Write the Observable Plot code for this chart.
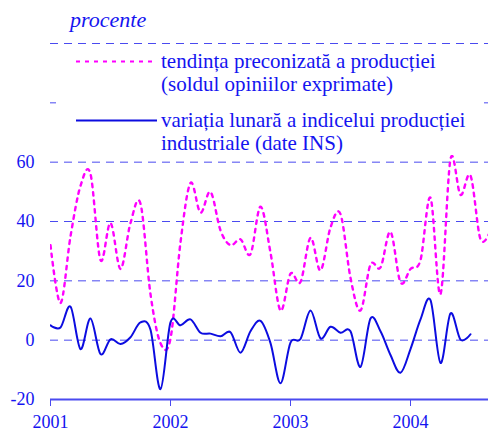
<!DOCTYPE html>
<html><head><meta charset="utf-8">
<script src="https://cdn.jsdelivr.net/npm/d3@7"></script>
<script src="https://cdn.jsdelivr.net/npm/@observablehq/plot@0.6"></script>
<style>html,body{margin:0;padding:0;background:#fff;} svg{display:block}</style>
</head><body><div id="chart"></div>
<script>
// ---- data (monthly, starting January 2001) ----
const yearLabels = ["2001", "2002", "2003", "2004"];
const trendValues = [
  32, 12.5, 35, 52, 56, 27, 39.5, 24, 39.5, 46, 15.5, -1,
  0.5, 33, 53, 43, 50, 37, 32, 34, 29, 45, 29.5, 10,
  22.4, 19.6, 34.5, 23.5, 38, 42.5, 21, 10, 25.5, 24.5, 36.5, 19.5,
  24, 27, 48, 15.5, 61, 49, 55.5, 34, 37
];
const industrialValues = [
  5, 4.3, 11.3, -3, 7.3, -4.7, 0.3, -1.3, 1, 6, 3.5, -16.5,
  6, 5, 7, 2.5, 2.2, 1.3, 2.7, -4.2, 3, 6.5, -1, -14.5,
  -0.8, 0.4, 10, 0.6, 4.5, 2.5, 3, -9, 7.3, 3, -5, -11,
  -3, 7, 13.5, -7.7, 9, 0.2, 2
];
const yTickValues = [-20, 0, 20, 40, 60];
const gridValues = [0, 20, 40, 60, 80, 100];
const unitLabel = "procente";
const legendTrend = ["tendința preconizată a producției", "(soldul opiniilor exprimate)"];
const legendIndustrial = ["variația lunară a indicelui producției", "industriale (date INS)"];

const fontStack = "'Liberation Serif', 'Times New Roman', Times, serif";
const textColor = "#1414f0";
const gridColor = "#4a4af0";
const blueLine = "#0c0ce0";
const magenta = "#ff00ff";

const trend = trendValues.map((v, i) => ({m: i, v}));
const industrial = industrialValues.map((v, i) => ({m: i, v}));
const yearTicks = yearLabels.map((_, k) => k * 12);

const chart = Plot.plot({
  width: 488,
  height: 432,
  marginLeft: 50,
  marginRight: 0,
  marginTop: 43,
  marginBottom: 33,
  style: {fontFamily: fontStack, fontSize: "18px", color: textColor, background: "#fff"},
  x: {domain: [0, 43.8], axis: null},
  y: {domain: [-20, 100], axis: null},
  marks: [
    Plot.ruleY(gridValues, {stroke: gridColor, strokeWidth: 1, strokeDasharray: "8,6"}),
    Plot.ruleY([-20], {stroke: gridColor, strokeWidth: 2}),
    Plot.axisY(yTickValues, {tickSize: 0, tickPadding: 16, fill: textColor, fontSize: 18, label: null,
      tickFormat: d => String(d)}),
    Plot.axisX(yearTicks, {tickSize: 7, tickPadding: 9, stroke: gridColor, fill: textColor, fontSize: 18, label: null,
      tickFormat: d => yearLabels[d / 12]}),
    Plot.line(trend, {x: "m", y: "v", stroke: magenta, strokeWidth: 2.4, strokeDasharray: "3.5,5", curve: "cardinal", clip: true}),
    Plot.line(industrial, {x: "m", y: "v", stroke: blueLine, strokeWidth: 2, curve: "cardinal", clip: true})
  ]
});

// legend / unit label (non-data decoration)
const svg = d3.select(chart);
const g = svg.append("g").attr("font-family", fontStack).attr("font-size", 21)
  .attr("fill", textColor).attr("text-anchor", "start");
g.append("rect").attr("x", 56).attr("y", 47).attr("width", 423).attr("height", 108).attr("fill", "#fff");
g.append("text").attr("x", 70).attr("y", 26.5).attr("font-style", "italic").attr("font-size", 22).text(unitLabel);
g.append("line").attr("x1", 76).attr("x2", 157).attr("y1", 61.5).attr("y2", 61.5)
  .attr("stroke", magenta).attr("stroke-width", 2.2).attr("stroke-dasharray", "4,5");
g.append("line").attr("x1", 76).attr("x2", 157).attr("y1", 120.5).attr("y2", 120.5)
  .attr("stroke", blueLine).attr("stroke-width", 2);
g.append("text").attr("x", 161).attr("y", 67.5).text(legendTrend[0]);
g.append("text").attr("x", 161).attr("y", 90.5).text(legendTrend[1]);
g.append("text").attr("x", 161).attr("y", 126.5).text(legendIndustrial[0]);
g.append("text").attr("x", 161).attr("y", 150).text(legendIndustrial[1]);

document.getElementById("chart").appendChild(chart);
</script>
</body></html>
